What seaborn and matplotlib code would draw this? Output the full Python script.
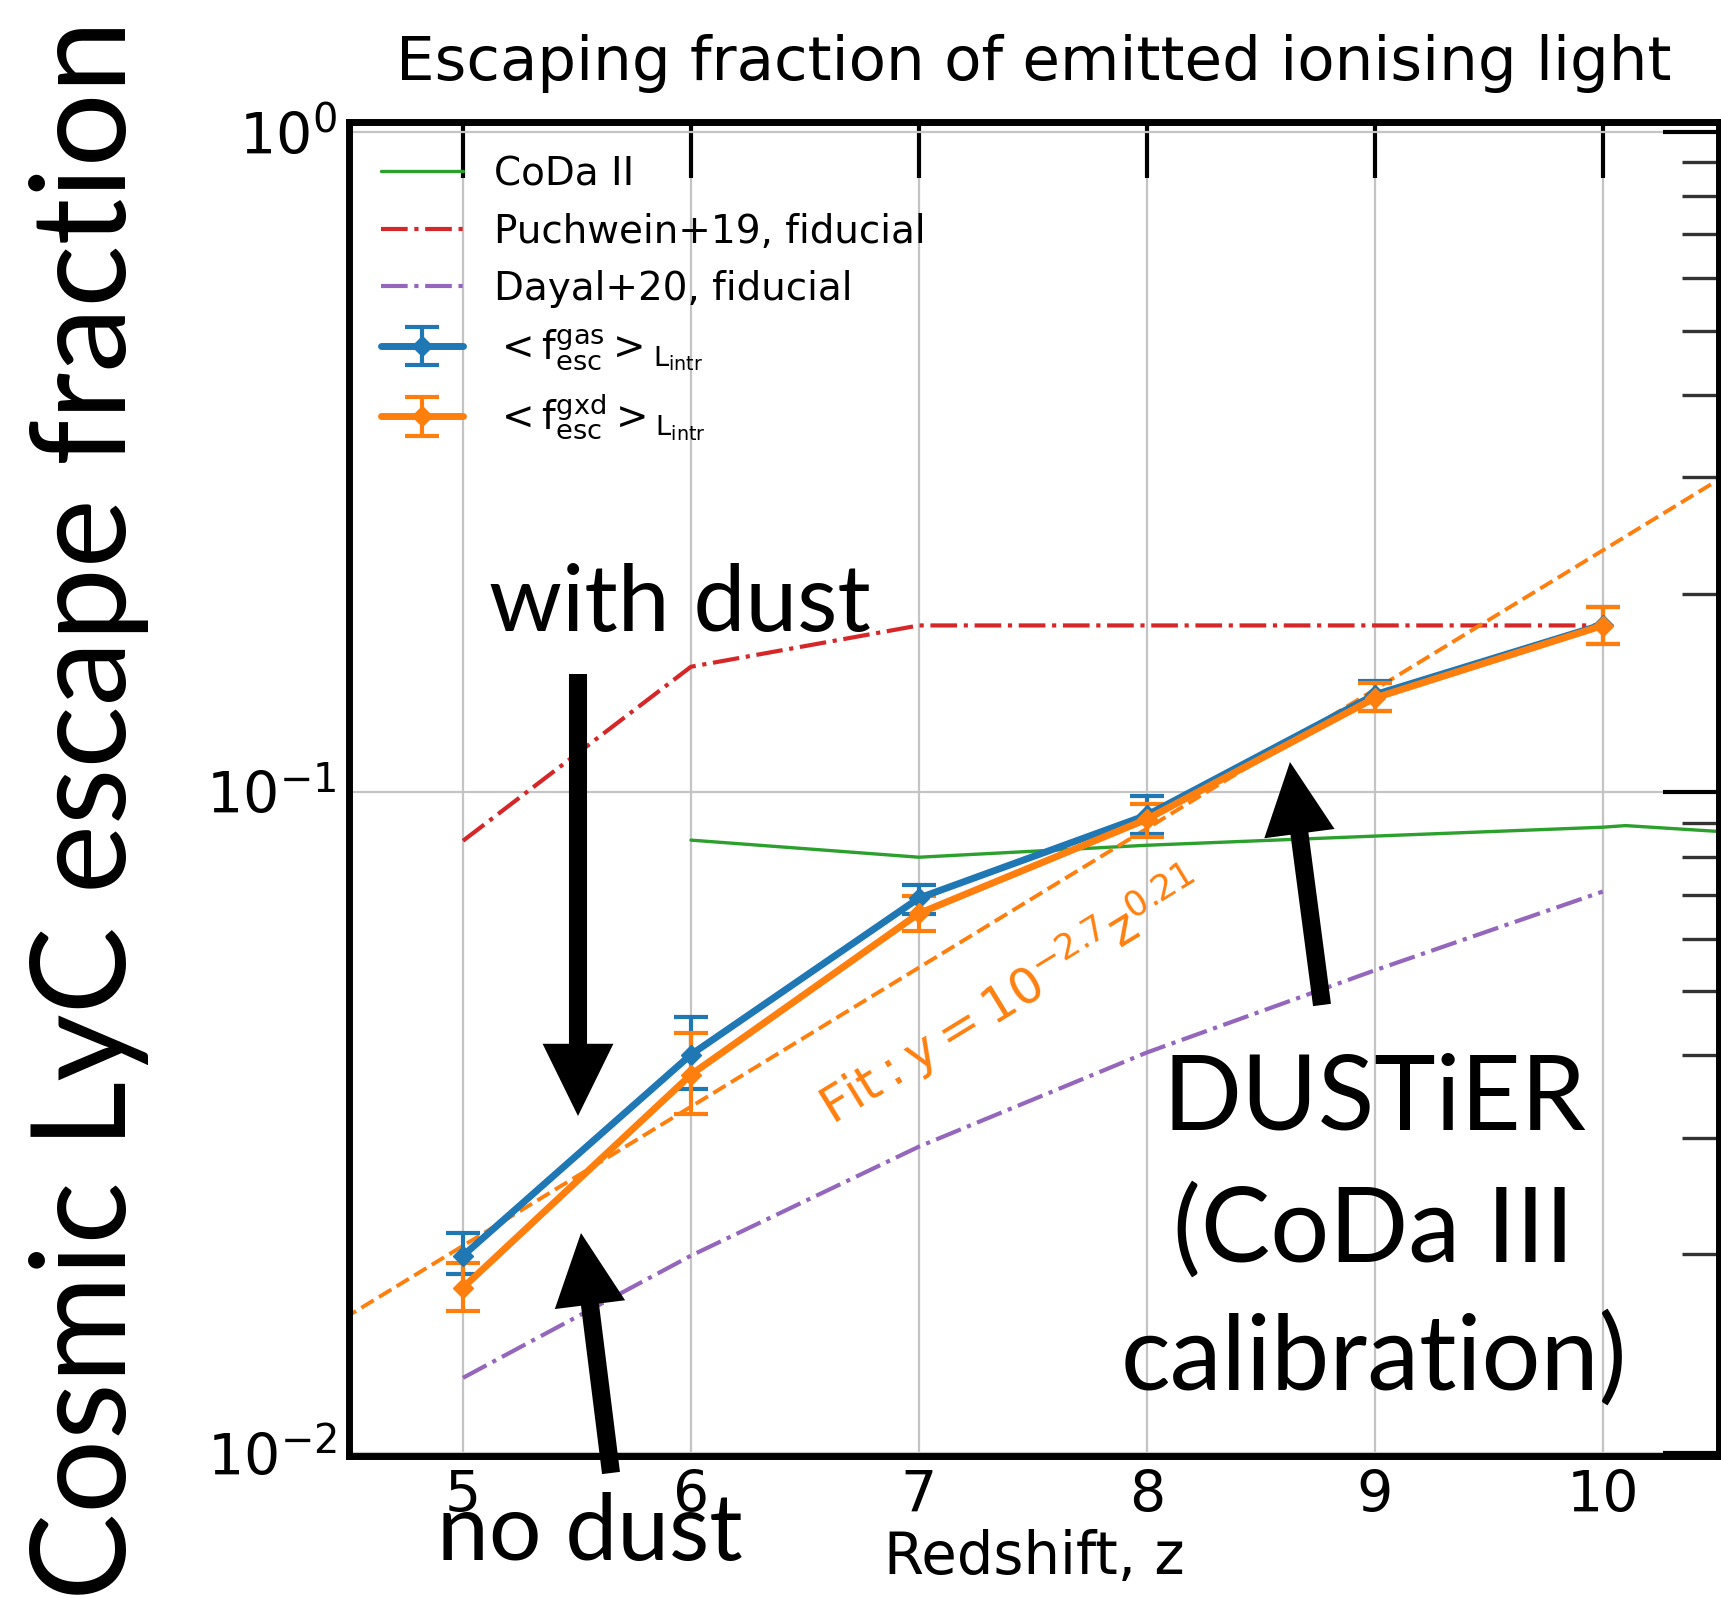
import numpy as np
import pandas as pd
import matplotlib
matplotlib.use("Agg")
import matplotlib.pyplot as plt
import seaborn as sns
from matplotlib.ticker import LogLocator, NullLocator, FixedLocator

# ---- data -----------------------------------------------------------------
z_sim = [5, 6, 7, 8, 9, 10]

# luminosity-weighted escape fraction, gas only
fesc_gas = [0.0199, 0.0401, 0.0692, 0.0924, 0.1406, 0.1795]
fesc_gas_lo = [0.0187, 0.0356, 0.0655, 0.0864, 0.1330, 0.1680]
fesc_gas_hi = [0.0215, 0.0457, 0.0725, 0.0987, 0.1477, 0.1910]

# luminosity-weighted escape fraction, gas x dust
fesc_gxd = [0.0178, 0.0374, 0.0656, 0.0911, 0.1390, 0.1789]
fesc_gxd_lo = [0.0164, 0.0326, 0.0616, 0.0856, 0.1328, 0.1680]
fesc_gxd_hi = [0.0194, 0.0432, 0.0698, 0.0961, 0.1466, 0.1910]

coda2_z = [6, 7, 8, 9, 10, 10.1, 10.6]
coda2_f = [0.0847, 0.0798, 0.0832, 0.0859, 0.0886, 0.0891, 0.0869]

puchwein_z = [5, 6, 7, 8, 9, 10]
puchwein_f = [0.0845, 0.155, 0.179, 0.179, 0.179, 0.179]

dayal_z = [5, 6, 7, 8, 9, 10]
dayal_f = [0.0130, 0.0199, 0.0291, 0.0404, 0.0538, 0.0708]

fit_z = [4.4, 10.6]
fit_f = [0.0154, 0.311]

ytick_vals = [1e-2, 1e-1, 1e0]
xtick_vals = [5, 6, 7, 8, 9, 10]

BLUE, ORANGE, GREEN, RED, PURPLE = "#1f77b4", "#ff7f0e", "#2ca02c", "#d62728", "#9467bd"

# ---- style ----------------------------------------------------------------
sns.set_theme(style="white")
plt.rcParams.update({
    "font.family": ["DejaVu Sans"],
    "mathtext.fontset": "dejavusans",
    "text.color": "black",
    "axes.labelcolor": "black",
    "xtick.color": "black",
    "ytick.color": "black",
    "axes.titlecolor": "black",
})

W, H, DPI = 1721, 1598, 100
fig = plt.figure(figsize=(W / DPI, H / DPI), dpi=DPI)
fig.patch.set_facecolor("white")


def px(x, y):
    """top-left pixel position -> figure fraction"""
    return x / W, 1 - y / H


ax = fig.add_axes([349 / W, 1 - 1456 / H, (1719 - 349) / W, (1456 - 121.7) / H])
ax.set_yscale("log")

# model curves
sns.lineplot(x=coda2_z, y=coda2_f, ax=ax, color=GREEN, lw=2.4, label="CoDa II", sort=False)
sns.lineplot(x=puchwein_z, y=puchwein_f, ax=ax, color=RED, lw=3, ls="-.",
             label="Puchwein+19, fiducial", sort=False)
sns.lineplot(x=dayal_z, y=dayal_f, ax=ax, color=PURPLE, lw=3, ls="-.",
             label="Dayal+20, fiducial", sort=False)
sns.lineplot(x=fit_z, y=fit_f, ax=ax, color=ORANGE, lw=2.8, ls="--", sort=False)

# simulation measurements
gas_err = [np.subtract(fesc_gas, fesc_gas_lo), np.subtract(fesc_gas_hi, fesc_gas)]
gxd_err = [np.subtract(fesc_gxd, fesc_gxd_lo), np.subtract(fesc_gxd_hi, fesc_gxd)]
eb_gas = ax.errorbar(z_sim, fesc_gas, yerr=gas_err, color=BLUE, lw=5, marker="D",
                     ms=10, capsize=12, capthick=3, elinewidth=3,
                     label=r"$<\mathrm{f}^{\mathrm{gas}}_{\mathrm{esc}}>_{\mathrm{L_{intr}}}$")
eb_gxd = ax.errorbar(z_sim, fesc_gxd, yerr=gxd_err, color=ORANGE, lw=5, marker="D",
                     ms=10, capsize=12, capthick=3, elinewidth=3,
                     label=r"$<\mathrm{f}^{\mathrm{gxd}}_{\mathrm{esc}}>_{\mathrm{L_{intr}}}$")

ax.text(6.62, 0.0313, r"$\mathrm{Fit: y = 10^{-2.7}z^{0.21}}$", color=ORANGE,
        fontsize=36, rotation=31.5, rotation_mode="anchor", ha="left", va="baseline")

# axes
ax.set_xlim(4.5, 10.51)
ax.set_ylim(0.0099, 1.036)
ax.xaxis.set_major_locator(FixedLocator(xtick_vals))
ax.xaxis.set_minor_locator(NullLocator())
ax.yaxis.set_major_locator(FixedLocator(ytick_vals))
ax.yaxis.set_minor_locator(LogLocator(base=10, subs=np.arange(2, 10)))
ax.grid(True, which="major", color="#c4c4c4", lw=1.6)
ax.set_axisbelow(True)
for s in ax.spines.values():
    s.set_linewidth(5)
    s.set_color("black")
ax.tick_params(which="major", direction="in", length=40, width=3, color="black",
               top=True, right=True, labelsize=41, pad=9)
ax.tick_params(which="minor", direction="in", length=27, width=2.4, color="#333333",
               top=True, right=True)
ax.set_xlabel("Redshift, z", fontsize=41.5, labelpad=4)
ax.set_title("Escaping fraction of emitted ionising light", fontsize=44, pad=30)

handles, labels = ax.get_legend_handles_labels()
order = ["CoDa II", "Puchwein+19, fiducial", "Dayal+20, fiducial"]
hs = [handles[labels.index(o)] for o in order] + [eb_gas, eb_gxd]
ls_ = order + [eb_gas.get_label(), eb_gxd.get_label()]
ax.legend(hs, ls_, loc="upper left", bbox_to_anchor=(0.0234, 0.975), frameon=False,
          fontsize=28, borderpad=0, borderaxespad=0, labelspacing=0.5,
          handlelength=2.1, handletextpad=0.8)

# big axis label and slide annotations
fig.text(*px(126, 810), "Cosmic LyC escape fraction", family="Lato", fontsize=94,
         rotation=90, rotation_mode="anchor", ha="center", va="baseline")

fig.text(*px(680, 631), "with dust", family="Lato", fontsize=67, ha="center", va="baseline")
fig.text(*px(590, 1560), "no dust", family="Lato", fontsize=67, ha="center", va="baseline")
for line, base in zip(["DUSTiER", "(CoDa III", "calibration)"], [1130, 1262, 1390]):
    fig.text(*px(1374, base), line, family="Lato", fontsize=75, ha="center", va="baseline")

arrow_kw = dict(facecolor="black", edgecolor="none", width=13, headwidth=51,
                headlength=52, shrink=0)
for tip, tail in [((578, 1116), (578, 674)),
                  ((581, 1233), (611, 1473)),
                  ((1290, 762), (1322, 1005))]:
    ax.annotate("", xy=(tip[0], H - tip[1]), xytext=(tail[0], H - tail[1]),
                xycoords="figure pixels", textcoords="figure pixels",
                arrowprops=arrow_kw, annotation_clip=False)

fig.savefig("out.png", dpi=DPI, facecolor="white")
